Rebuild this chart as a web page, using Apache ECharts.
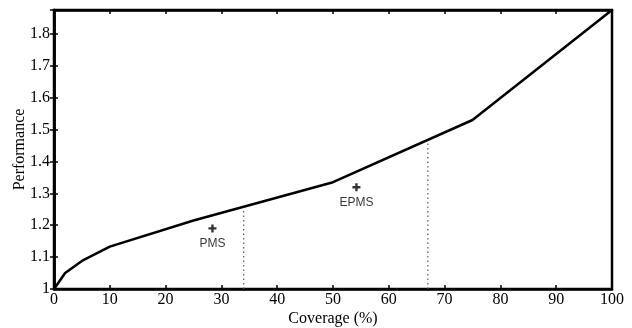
<!DOCTYPE html>
<html><head><meta charset="utf-8">
<script src="https://cdn.jsdelivr.net/npm/echarts@6/dist/echarts.min.js"></script>
<style>html,body{margin:0;padding:0;background:#fff}#c{width:632px;height:328px}</style>
</head><body><div id="c"></div>
<script>
var coverage = [0, 2, 5, 10, 25, 50, 75, 100];
var performance = [1.0, 1.05, 1.088, 1.133, 1.215, 1.335, 1.53, 1.875];
var pmsPoint = [28.4, 1.19];
var epmsPoint = [54.2, 1.319];
var dotted1 = [[34, 1.0], [34, 1.258]];
var dotted2 = [[67, 1.0], [67, 1.467]];
var xTicks = [0,10,20,30,40,50,60,70,80,90,100];
var yTicks = [1,1.1,1.2,1.3,1.4,1.5,1.6,1.7,1.8];

var chart = echarts.init(document.getElementById('c'));
var serif = 'Liberation Serif';
function yfmt(v){
  for (var i=0;i<yTicks.length;i++){ if (Math.abs(v-yTicks[i])<1e-6) return String(yTicks[i]); }
  return '';
}
var tickStyle = {show:true, inside:true, length:4, lineStyle:{color:'#000', width:1.5}};
chart.setOption({
  animation:false,
  grid:{left:54, right:20, top:10, bottom:39, show:true, borderColor:'#000', borderWidth:2.5,
        containLabel:false, outerBoundsMode:'none'},
  xAxis:[{
    type:'value', min:0, max:100, interval:10, position:'bottom',
    name:'Coverage (%)', nameLocation:'middle', nameGap:22, nameMoveOverlap:false,
    nameTextStyle:{fontFamily:serif, fontSize:16, color:'#000'},
    axisLine:{show:true, lineStyle:{color:'#000', width:2.5}},
    axisTick:tickStyle,
    axisLabel:{fontFamily:serif, fontSize:16, color:'#000', margin:3},
    splitLine:{show:false}
  },{
    type:'value', min:0, max:100, interval:10, position:'top',
    axisLine:{show:true, lineStyle:{color:'#000', width:2.5}},
    axisTick:tickStyle, axisLabel:{show:false}, splitLine:{show:false}
  }],
  yAxis:[{
    type:'value', min:1, max:1.875, interval:0.1, position:'left',
    name:'Performance', nameLocation:'middle', nameGap:26, nameRotate:90, nameMoveOverlap:false,
    nameTextStyle:{fontFamily:serif, fontSize:16, color:'#000'},
    axisLine:{show:true, lineStyle:{color:'#000', width:2.5}},
    axisTick:tickStyle,
    axisLabel:{fontFamily:serif, fontSize:16, color:'#000', margin:4, formatter:yfmt, showMaxLabel:false},
    splitLine:{show:false}
  },{
    type:'value', min:1, max:1.875, interval:0.1, position:'right',
    axisLine:{show:true, lineStyle:{color:'#000', width:2.5}},
    axisTick:tickStyle, axisLabel:{show:false}, splitLine:{show:false}
  }],
  series:[{
    type:'line', data:coverage.map(function(x,i){return [x, performance[i]];}),
    symbol:'none', lineStyle:{color:'#000', width:2.5}, z:5
  },{
    type:'line', data:dotted1, symbol:'none',
    lineStyle:{color:'#555', width:1.2, type:[1.5,3]}
  },{
    type:'line', data:dotted2, symbol:'none',
    lineStyle:{color:'#555', width:1.2, type:[1.5,3]}
  },{
    type:'scatter', data:[pmsPoint, epmsPoint],
    symbol:'path://M-1.2,-4 L1.2,-4 L1.2,-1.2 L4,-1.2 L4,1.2 L1.2,1.2 L1.2,4 L-1.2,4 L-1.2,1.2 L-4,1.2 L-4,-1.2 L-1.2,-1.2 Z',
    symbolSize:8, itemStyle:{color:'#000'},
    label:{show:true, position:'bottom', distance:5, fontFamily:'Liberation Sans', fontSize:12, color:'#000',
      formatter:function(p){return p.dataIndex===0?'PMS':'EPMS';}}
  }]
});
</script></body></html>
